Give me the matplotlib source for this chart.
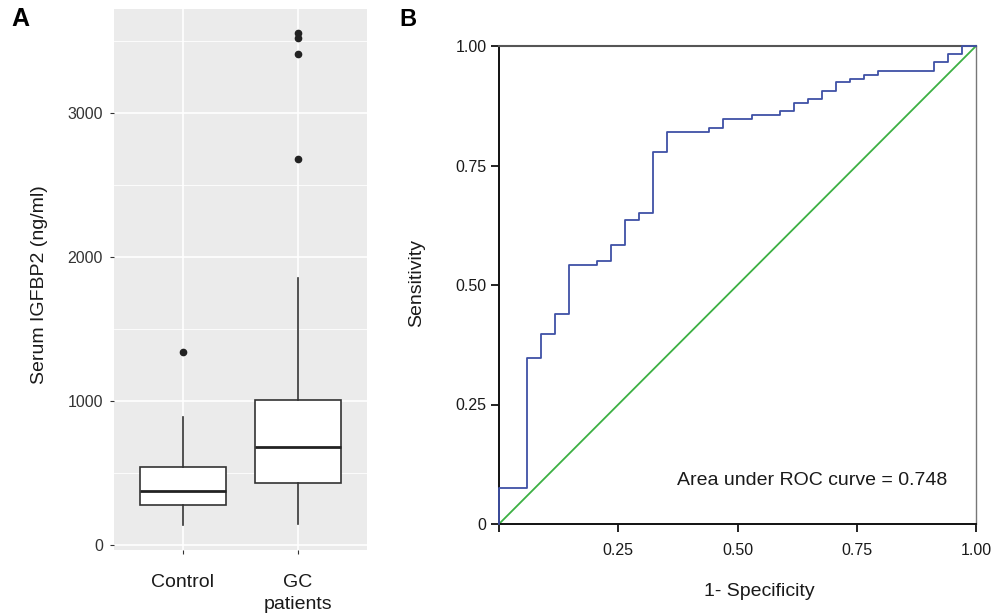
import matplotlib
matplotlib.use("Agg")
import matplotlib.pyplot as plt

plt.rcParams['font.family'] = ['Liberation Sans', 'DejaVu Sans']

# ---- Panel A data (box plot summary) ----
groups = ["Control", "GC\npatients"]
q1 = [278, 427]
medians = [372, 677]
q3 = [542, 1004]
whisker_low = [141, 149]
whisker_high = [892, 1851]
outliers = [[1337], [2682, 3410, 3519, 3553]]
yticks_a = [0, 1000, 2000, 3000]
yminor_a = [500, 1500, 2500, 3500]

# ---- Panel B data (ROC step curve) ----
fpr = [0.0, 0.0, 0.0588, 0.0588, 0.0882, 0.0882, 0.1176, 0.1176, 0.1471, 0.1471,
       0.2059, 0.2059, 0.2353, 0.2353, 0.2647, 0.2647, 0.2941, 0.2941, 0.3235, 0.3235,
       0.3529, 0.3529, 0.4412, 0.4412, 0.4706, 0.4706, 0.5294, 0.5294, 0.5882, 0.5882,
       0.6176, 0.6176, 0.6471, 0.6471, 0.6765, 0.6765, 0.7059, 0.7059, 0.7353, 0.7353,
       0.7647, 0.7647, 0.7941, 0.7941, 0.9118, 0.9118, 0.9412, 0.9412, 0.9706, 0.9706, 1.0]
tpr = [0.0, 0.0747, 0.0747, 0.347, 0.347, 0.397, 0.397, 0.439, 0.439, 0.542,
       0.542, 0.550, 0.550, 0.584, 0.584, 0.635, 0.635, 0.651, 0.651, 0.778,
       0.778, 0.820, 0.820, 0.828, 0.828, 0.847, 0.847, 0.855, 0.855, 0.864,
       0.864, 0.881, 0.881, 0.889, 0.889, 0.906, 0.906, 0.924, 0.924, 0.931,
       0.931, 0.940, 0.940, 0.948, 0.948, 0.966, 0.966, 0.983, 0.983, 1.0, 1.0]
auc_text = "Area under ROC curve = 0.748"
ticks_b = [0, 0.25, 0.5, 0.75, 1.0]
xticklabels_b = ["", "0.25", "0.50", "0.75", "1.00"]
yticklabels_b = ["0", "0.25", "0.50", "0.75", "1.00"]

W, H = 994, 616
fig = plt.figure(figsize=(W / 100, H / 100), dpi=100)

# ---------------- Panel A ----------------
axA = fig.add_axes([114 / W, 1 - 550 / H, (367 - 114) / W, (550 - 9) / H])
axA.set_facecolor("#EBEBEB")
stats = []
for i in range(len(groups)):
    stats.append(dict(med=medians[i], q1=q1[i], q3=q3[i],
                      whislo=whisker_low[i], whishi=whisker_high[i],
                      fliers=outliers[i], label=groups[i]))
axA.bxp(stats, positions=[1, 2], widths=0.75, patch_artist=True,
        showcaps=False,
        boxprops=dict(facecolor="white", edgecolor="#333333", linewidth=1.2),
        medianprops=dict(color="#222222", linewidth=2.0),
        whiskerprops=dict(color="#333333", linewidth=1.2),
        flierprops=dict(marker="o", markerfacecolor="#222222", markeredgecolor="#222222",
                        markersize=4.5),
        zorder=3)
axA.set_xlim(0.4, 2.6)
axA.set_ylim(-35, 3722)
axA.set_yticks(yticks_a)
axA.set_yticks(yminor_a, minor=True)
axA.set_yticklabels([str(v) for v in yticks_a])
axA.set_xticks([1, 2])
axA.set_xticklabels(groups, fontsize=14, color="#1a1a1a", linespacing=1.4)
axA.grid(True, which="major", color="white", linewidth=1.2, zorder=0)
axA.grid(True, which="minor", axis="y", color="white", linewidth=0.6, zorder=0)
axA.set_axisbelow(True)
for s in axA.spines.values():
    s.set_visible(False)
axA.tick_params(axis="y", which="major", length=3, color="#333333", labelsize=11.5,
                labelcolor="#333333", pad=5)
axA.tick_params(axis="x", which="major", length=3, color="#333333", pad=14)
axA.tick_params(which="minor", length=0)
fig.text(40 / W, 1 - 285 / H, "Serum IGFBP2 (ng/ml)", fontsize=14, color="#1a1a1a",
         rotation=90, ha="center", va="center")
fig.text(20 / W, 1 - 19 / H, "A", fontsize=18, fontweight="bold", ha="center", va="center")

# ---------------- Panel B ----------------
axB = fig.add_axes([499 / W, 1 - 524 / H, (976 - 499) / W, (524 - 46) / H])
axB.plot([0, 1], [0, 1], color="#3CB043", linewidth=1.3, clip_on=False, zorder=2)
axB.plot(fpr, tpr, color="#3F51A6", linewidth=1.3, clip_on=False, zorder=3)
axB.set_xlim(0, 1)
axB.set_ylim(0, 1)
axB.set_xticks(ticks_b)
axB.set_xticklabels(xticklabels_b)
axB.set_yticks(ticks_b)
axB.set_yticklabels(yticklabels_b)
axB.spines["left"].set_color("#111111")
axB.spines["bottom"].set_color("#111111")
axB.spines["left"].set_linewidth(1.4)
axB.spines["bottom"].set_linewidth(1.4)
axB.spines["top"].set_color("#555555")
axB.spines["top"].set_linewidth(1.5)
axB.spines["right"].set_color("#777777")
axB.spines["right"].set_linewidth(1.0)
axB.tick_params(length=6, width=1.3, color="#111111", labelsize=11.5, pad=8,
                labelcolor="#1a1a1a")
axB.tick_params(axis="y", pad=3)
axB.text(0.939, 0.09, auc_text, transform=axB.transAxes, ha="right", va="center",
         fontsize=14, color="#1a1a1a")
fig.text(759 / W, 1 - 592 / H, "1- Specificity", fontsize=14, color="#1a1a1a",
         ha="center", va="center")
fig.text(417 / W, 1 - 283 / H, "Sensitivity", fontsize=14, color="#1a1a1a",
         rotation=90, ha="center", va="center")
fig.text(408 / W, 1 - 19 / H, "B", fontsize=17, fontweight="bold", ha="center", va="center")

fig.savefig("out.png", dpi=100, facecolor="white")
